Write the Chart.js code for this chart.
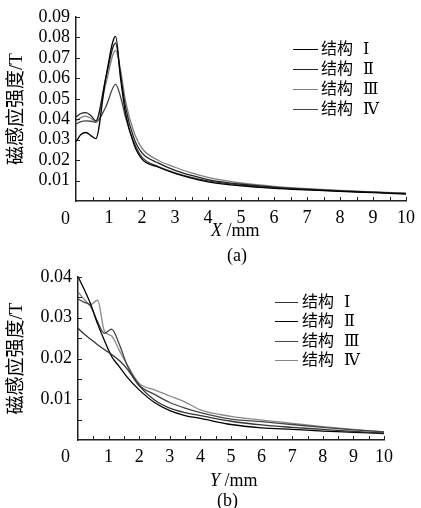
<!DOCTYPE html>
<html lang="zh">
<head>
  <meta charset="UTF-8" />
  <title>磁感应强度</title>
  <script src="https://cdn.jsdelivr.net/npm/chart.js"></script>
  <style>
    body {
      margin: 0;
      background: #fff;
      font-family: "Liberation Serif", "DejaVu Serif", "Noto Sans CJK SC", serif;
    }
    .wrap { position: relative; width: 421px; height: 508px; }
    .panel { position: absolute; left: 0; width: 421px; }
    .txt {
      position: absolute;
      color: #000;
      font-size: 18px;
      line-height: 1;
      white-space: nowrap;
    }
    .leg-row { position: absolute; left: 0; width: 421px; height: 20px; }
    .leg-line { position: absolute; top: 9px; height: 0; border-top: 1.5px solid #000; }
    .leg-text {
      position: absolute; top: 1px;
      font-size: 16px; line-height: 1;
      white-space: nowrap;
      word-spacing: 6px;
      font-family: "Liberation Serif", "DejaVu Serif", "Noto Sans CJK SC", serif;
    }
  </style>
</head>
<body>
<div class="wrap">
  <div class="panel" style="top:0;height:260px"><canvas id="chartA" width="421" height="260"></canvas></div>
  <div class="panel" style="top:260px;height:248px"><canvas id="chartB" width="421" height="248"></canvas></div>

  <div class="txt" style="left:61px;top:209px">0</div>
  <div class="txt" style="left:211px;top:221px"><i>X</i> /mm</div>
  <div class="txt" style="left:227px;top:246px">(a)</div>

  <div class="txt" style="left:61px;top:447px">0</div>
  <div class="txt" style="left:210px;top:471px"><i>Y</i> /mm</div>
  <div class="txt" style="left:217px;top:491px">(b)</div>

  <div id="legendA"></div>
  <div id="legendB"></div>
</div>

<script>
  // series names
  const seriesNames = ["结构 Ⅰ", "结构 Ⅱ", "结构 Ⅲ", "结构 Ⅳ"];

  // (a) along X, mm
  const xA = [0, 0.15, 0.3, 0.45, 0.6, 0.9, 1.2, 1.35, 1.5, 1.75, 2, 2.5, 3, 3.5, 4, 5, 6, 7, 8, 9, 10];
  const a1 = [0.029, 0.0325, 0.0335, 0.032, 0.0305, 0.060, 0.0805, 0.060, 0.043, 0.028, 0.0205, 0.0165, 0.0135, 0.0112, 0.0094, 0.0074, 0.0062, 0.0054, 0.0047, 0.0041, 0.0034];
  const a2 = [0.0411, 0.0428, 0.0432, 0.0418, 0.0392, 0.060, 0.0772, 0.062, 0.046, 0.031, 0.0235, 0.0185, 0.0150, 0.0125, 0.0105, 0.0082, 0.0068, 0.0058, 0.0050, 0.0043, 0.0037];
  const a3 = [0.0392, 0.0408, 0.0415, 0.0405, 0.0388, 0.057, 0.0737, 0.064, 0.049, 0.034, 0.0258, 0.0198, 0.0165, 0.0137, 0.0115, 0.0088, 0.0072, 0.0061, 0.0052, 0.0045, 0.0038];
  const a4 = [0.0376, 0.0388, 0.0392, 0.039, 0.0385, 0.046, 0.057, 0.051, 0.041, 0.029, 0.0215, 0.0168, 0.0138, 0.0115, 0.0098, 0.0078, 0.0065, 0.0056, 0.0049, 0.0043, 0.0036];

  // (b) along Y, mm
  const xB = [0, 0.2, 0.4, 0.64, 0.86, 1.1, 1.35, 1.6, 2, 2.5, 3, 3.5, 4, 5, 6, 7, 8, 9, 10];
  const b1 = [0.0274, 0.026, 0.0248, 0.0234, 0.0222, 0.021, 0.0195, 0.0175, 0.0133, 0.0098, 0.0078, 0.0067, 0.006, 0.0046, 0.0037, 0.0031, 0.0026, 0.0021, 0.0017];
  const b2 = [0.0401, 0.037, 0.0336, 0.0285, 0.0245, 0.0205, 0.018, 0.0155, 0.0123, 0.0092, 0.0072, 0.006, 0.0053, 0.0038, 0.0030, 0.0026, 0.0022, 0.0019, 0.0016];
  const b3 = [0.0346, 0.0338, 0.033, 0.029, 0.0262, 0.0272, 0.0235, 0.0185, 0.0135, 0.0112, 0.0092, 0.0078, 0.0067, 0.0051, 0.0045, 0.0038, 0.0031, 0.0025, 0.002];
  const b4 = [0.0364, 0.0345, 0.0332, 0.0343, 0.0268, 0.0255, 0.022, 0.0185, 0.0139, 0.0123, 0.0108, 0.0093, 0.0074, 0.0058, 0.0049, 0.0041, 0.0033, 0.0026, 0.002];

  const colorsA = ["#000", "#222", "#808080", "#444"];
  const colorsB = ["#333", "#000", "#444", "#888"];

  // little inward tick marks on both axes
  const inwardTicks = {
    id: "inwardTicks",
    afterDraw(chart) {
      const { ctx, chartArea: area, scales: { x, y } } = chart;
      ctx.save();
      ctx.strokeStyle = "#222";
      ctx.lineWidth = 1;
      x.ticks.forEach(t => {
        if (t.value === 0) return;
        const px = Math.round(x.getPixelForValue(t.value)) + 0.5;
        ctx.beginPath(); ctx.moveTo(px, area.bottom); ctx.lineTo(px, area.bottom - 4); ctx.stroke();
      });
      y.ticks.forEach(t => {
        if (t.value === 0) return;
        const py = Math.round(y.getPixelForValue(t.value)) + 0.5;
        ctx.beginPath(); ctx.moveTo(area.left, py); ctx.lineTo(area.left + 4, py); ctx.stroke();
      });
      ctx.restore();
    }
  };

  function makeChart(id, xs, ys, colors, yMax, yStep, area) {
    const canvas = document.getElementById(id);
    const W = canvas.width, H = canvas.height;
    const datasets = ys.map((vals, i) => ({
      label: seriesNames[i],
      data: vals.map((v, k) => ({ x: xs[k], y: v })),
      borderColor: colors[i],
      borderWidth: 1.3,
      pointRadius: 0,
      fill: false,
      cubicInterpolationMode: "monotone"
    }));

    return new Chart(canvas.getContext("2d"), {
      type: "line",
      data: { datasets },
      options: {
        responsive: false,
        animation: false,
        layout: { padding: { left: 0, top: area.top, right: W - area.right, bottom: 0 } },
        plugins: { legend: { display: false }, tooltip: { enabled: false } },
        scales: {
          x: {
            type: "linear",
            min: 0, max: 10,
            grid: { display: false, drawTicks: false },
            border: { display: true, color: "#222", width: 1.5 },
            ticks: {
              stepSize: 0.5, padding: 6, maxRotation: 0, autoSkip: false,
              color: "#000",
              font: { family: "Liberation Serif", size: 18 },
              callback: v => (v > 0 && Number.isInteger(v)) ? String(v) : ""
            },
            afterFit: s => { s.height = H - area.bottom; }
          },
          y: {
            min: 0, max: yMax,
            grid: { display: false, drawTicks: false },
            border: { display: true, color: "#222", width: 1.5 },
            ticks: {
              stepSize: yStep, padding: 6, autoSkip: false,
              color: "#000",
              font: { family: "Liberation Serif", size: 18 },
              callback: v => {
                const m = Math.round(v * 1000);
                return (m > 0 && m % 10 === 0) ? (m / 1000).toFixed(2) : "";
              }
            },
            title: {
              display: true,
              text: "磁感应强度/T",
              color: "#000",
              padding: { top: 6, bottom: 0 },
              font: { family: "Liberation Serif, Noto Sans CJK SC", size: 19 }
            },
            afterFit: s => { s.width = area.left; }
          }
        }
      },
      plugins: [inwardTicks]
    });
  }

  makeChart("chartA", xA, [a1, a2, a3, a4], colorsA, 0.09, 0.01,
    { left: 76, top: 17, right: 410, bottom: 201 });
  makeChart("chartB", xB, [b1, b2, b3, b4], colorsB, 0.04, 0.005,
    { left: 78, top: 17, right: 384, bottom: 180 });

  // legends, built from the dataset colours and names
  function buildLegend(id, colors, lineLeft, lineLen, textLeft, rowTops) {
    const box = document.getElementById(id);
    seriesNames.forEach((name, i) => {
      const row = document.createElement("div");
      row.className = "leg-row";
      row.style.top = rowTops[i] + "px";
      row.innerHTML =
        '<div class="leg-line" style="left:' + lineLeft + 'px;width:' + lineLen + 'px;border-color:' + colors[i] + '"></div>' +
        '<div class="leg-text" style="left:' + textLeft + 'px">' + name + '</div>';
      box.appendChild(row);
    });
  }
  buildLegend("legendA", colorsA, 293, 25, 321, [40, 60, 80, 100]);
  buildLegend("legendB", colorsB, 275, 23, 302, [293, 312, 332, 351]);
</script>
</body>
</html>
